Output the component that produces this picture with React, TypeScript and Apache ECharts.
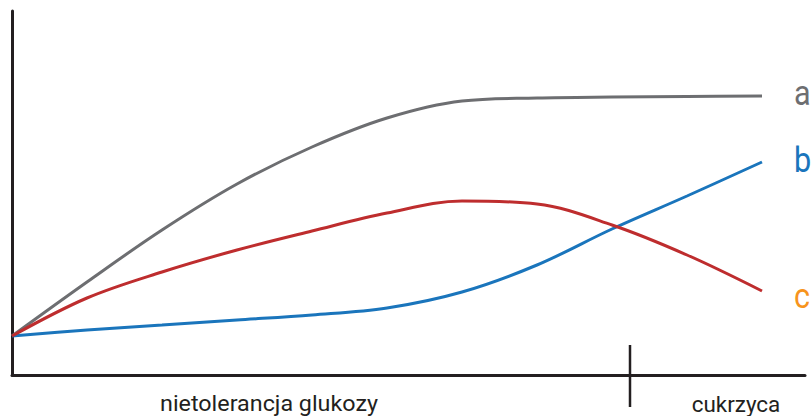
import React, { useEffect, useRef } from "react";
import * as echarts from "echarts";

const xs = [0, 75, 150, 225, 300, 375, 450, 525, 600, 675, 750];
const seriesA = [39, 93, 145, 191, 228, 257, 274, 277, 278, 278.5, 279];
const seriesB = [39, 45, 50, 55, 60, 67, 83, 110, 146, 179, 213];
const seriesC = [39, 77, 103, 125, 144, 162, 174, 171, 150, 120, 84];
const seriesNames = ["a", "b", "c"];
const labelColors = ["#6d6e71", "#1a75bc", "#f7941d"];
const lineColors = ["#6d6e71", "#1a75bc", "#be2d2e"];
const phaseLabels = ["nietolerancja glukozy", "cukrzyca"];

export default function App() {
  const ref = useRef<HTMLDivElement>(null);
  useEffect(() => {
    const chart = echarts.init(ref.current!, undefined, { renderer: "svg" });
    const vals = [seriesA, seriesB, seriesC];
    const labelY = [93, 160, 296];
    chart.setOption({
      animation: false,
      grid: { left: 12, right: 6, top: 11, bottom: 41 },
      xAxis: {
        type: "value",
        min: 0,
        max: 793,
        axisLine: { show: true, lineStyle: { color: "#231f20", width: 3 } },
        axisTick: { show: false },
        axisLabel: { show: false },
        splitLine: { show: false },
      },
      yAxis: {
        type: "value",
        min: 0,
        max: 364,
        axisLine: { show: true, lineStyle: { color: "#231f20", width: 3 } },
        axisTick: { show: false },
        axisLabel: { show: false },
        splitLine: { show: false },
      },
      series: seriesNames.map((name, i) => ({
        type: "line",
        name,
        data: xs.map((x, j) => [x, vals[i][j]]),
        smooth: 0.35,
        symbol: "none",
        lineStyle: { color: lineColors[i], width: 3 },
      })),
      graphic: [
        {
          type: "line",
          shape: { x1: 630, y1: 345, x2: 630, y2: 407 },
          style: { stroke: "#231f20", lineWidth: 2.5 },
        },
        ...seriesNames.map((name, i) => ({
          type: "text",
          x: 794,
          y: labelY[i],
          scaleX: 0.85,
          style: {
            text: name,
            fill: labelColors[i],
            font: "36px Roboto",
            align: "left",
            verticalAlign: "middle",
          },
        })),
        {
          type: "text",
          x: 269,
          y: 404,
          scaleX: 1.06,
          style: {
            text: phaseLabels[0],
            fill: "#231f20",
            font: "22px Roboto",
            align: "center",
            verticalAlign: "middle",
          },
        },
        {
          type: "text",
          x: 736,
          y: 404,
          scaleX: 1.02,
          style: {
            text: phaseLabels[1],
            fill: "#231f20",
            font: "22px Roboto",
            align: "center",
            verticalAlign: "middle",
          },
        },
      ],
    });
    return () => chart.dispose();
  }, []);
  return <div ref={ref} style={{ width: 811, height: 416, position: "absolute", left: 0, top: 0 }} />;
}
